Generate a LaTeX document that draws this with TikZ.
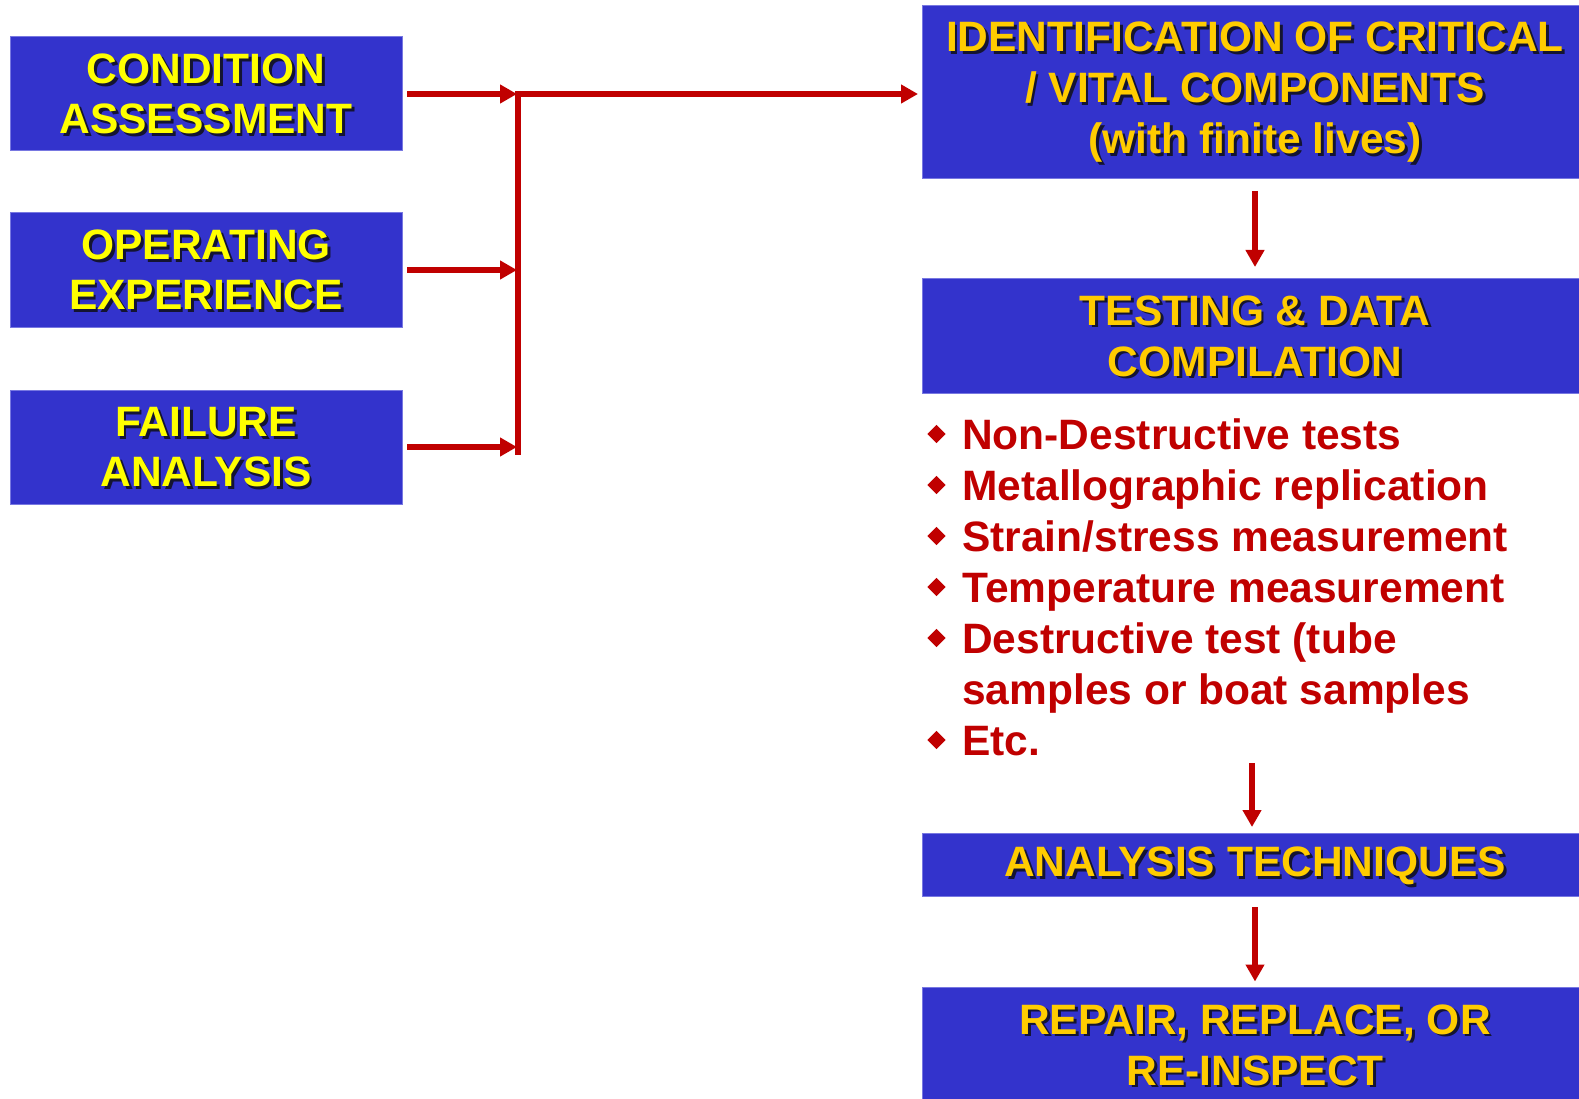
\documentclass[tikz,border=0pt]{standalone}
\usepackage{fontspec}
\setmainfont{Liberation Sans}
\usetikzlibrary{arrows.meta,shapes.geometric}

\definecolor{boxblue}{RGB}{51,51,204}
\definecolor{boxedge}{RGB}{120,120,225}
\definecolor{flowred}{RGB}{192,0,0}
\definecolor{lemon}{RGB}{255,255,0}
\definecolor{gold}{RGB}{255,204,0}
\definecolor{textshade}{RGB}{20,20,50}

\tikzset{
  blockbox/.style={fill=boxblue, draw=boxedge, line width=1pt, inner sep=0pt, outer sep=0pt},
  lefttext/.style={inner sep=0pt, align=center, text=lemon, font=\fontsize{42.5}{50}\selectfont\bfseries},
  righttext/.style={inner sep=0pt, align=center, text=gold, font=\fontsize{42.5}{51}\selectfont\bfseries},
  flow/.style={draw=flowred, line width=6pt, -{Triangle[length=17pt,width=18pt]}},
  bus/.style={draw=flowred, line width=6pt},
  itemtext/.style={anchor=base west, inner sep=0pt, text=flowred, font=\fontsize{42.5}{51}\selectfont\bfseries},
  bulletmark/.style={diamond, fill=flowred, minimum size=18.6pt, inner sep=0pt},
}

% text with a dark drop shadow behind it
\newcommand\shadedlabel[3]{%
  \node[#1, text=textshade] at ([xshift=2.8pt,yshift=-2.8pt]#2) {#3};
  \node[#1] at (#2) {#3};}

\begin{document}
\begin{tikzpicture}[x=1pt,y=-1pt]
\useasboundingbox (0,0) rectangle (1579,1099);
\clip (0,0) rectangle (1579,1099);

% input boxes
\node[blockbox, minimum width=392pt, minimum height=114pt] (ca) at (206,94) {};
\node[blockbox, minimum width=392pt, minimum height=114pt] (op) at (206,270) {};
\node[blockbox, minimum width=392pt, minimum height=114pt] (fa) at (206,447) {};

% process chain
\node[blockbox, minimum width=666pt, minimum height=173pt] (id) at (1255,92.5) {};
\node[blockbox, minimum width=666pt, minimum height=114pt] (td) at (1255,336) {};
\node[blockbox, minimum width=666pt, minimum height=63pt] (tech) at (1255,864.5) {};
\node[blockbox, minimum width=666pt, minimum height=122pt] (rr) at (1255,1048) {};

% collecting bus
\coordinate (bustop) at (518,91);
\coordinate (busbot) at (518,455);
\coordinate (hub) at (515,94);
\draw[bus] (bustop) -- (busbot);
\draw[flow, shorten >=1pt] ([xshift=5pt]ca.east) -- (ca.east -| bustop);
\draw[flow, shorten >=1pt] ([xshift=5pt]op.east) -- (op.east -| bustop);
\draw[flow, shorten >=1pt] ([xshift=5pt]fa.east) -- (fa.east -| bustop);
\draw[flow, shorten >=4pt] (hub) -- (hub -| id.west);

% downward flow
\coordinate (listend) at (1252,763);
\draw[flow, shorten <=12pt, shorten >=12pt] (id.south) -- (td.north);
\draw[flow, shorten >=6pt] (listend) -- (listend |- tech.north);
\draw[flow, shorten <=11pt, shorten >=5.5pt] (tech.south) -- (rr.north);

% box labels
\shadedlabel{lefttext}{ca.center}{CONDITION\\ASSESSMENT}
\shadedlabel{lefttext}{op.center}{OPERATING\\EXPERIENCE}
\shadedlabel{lefttext}{fa.center}{FAILURE\\ANALYSIS}
\shadedlabel{righttext}{id.center}{IDENTIFICATION OF CRITICAL\\/ VITAL COMPONENTS\\(with finite lives)}
\shadedlabel{righttext}{td.center}{TESTING \& DATA\\COMPILATION}
\shadedlabel{righttext}{1255,866}{ANALYSIS TECHNIQUES}
\shadedlabel{righttext}{1255,1045}{REPAIR, REPLACE, OR\\RE-INSPECT}

% test list
\node[itemtext] (i1) at (962,449) {Non-Destructive tests};
\node[itemtext] (i2) at (962,500) {Metallographic replication};
\node[itemtext] (i3) at (962,551) {Strain/stress measurement};
\node[itemtext] (i4) at (962,602) {Temperature measurement};
\node[itemtext] (i5) at (962,653) {Destructive test (tube};
\node[itemtext] (i5b) at (962,704) {samples or boat samples};
\node[itemtext] (i6) at (962,755) {Etc.};
\foreach \it in {i1,i2,i3,i4,i5,i6}
  \node[bulletmark] at ([xshift=-25.5pt,yshift=15pt]\it.base west) {};
\end{tikzpicture}
\end{document}
